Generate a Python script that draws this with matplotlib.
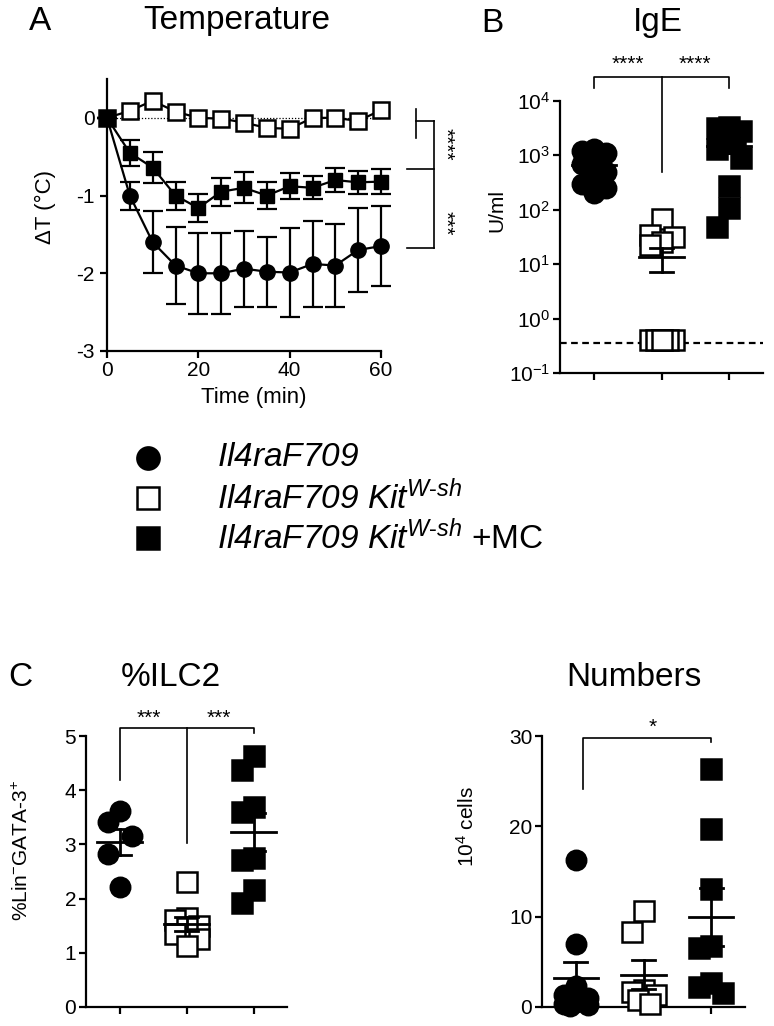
import matplotlib

matplotlib.use("Agg")
import matplotlib.pyplot as plt
from matplotlib.lines import Line2D

plt.rcParams["font.family"] = ["Liberation Sans", "DejaVu Sans"]
plt.rcParams["mathtext.fontset"] = "custom"
plt.rcParams["mathtext.rm"] = "Liberation Sans"
plt.rcParams["mathtext.it"] = "Liberation Sans:italic"
plt.rcParams["mathtext.sf"] = "Liberation Sans:italic"
plt.rcParams["axes.unicode_minus"] = False
plt.rcParams["axes.linewidth"] = 1.6

W, H = 774, 1026

# --- panel A: temperature drop over time (mean +/- SEM)
time_min = [0, 5, 10, 15, 20, 25, 30, 35, 40, 45, 50, 55, 60]
temp_f709 = [0, -1.0, -1.6, -1.9, -2.0, -2.0, -1.94, -1.98, -1.99, -1.88, -1.9, -1.7, -1.65]
temp_f709_sem = [0, 0.18, 0.4, 0.5, 0.52, 0.52, 0.49, 0.45, 0.57, 0.55, 0.54, 0.54, 0.51]
temp_kit = [0, 0.09, 0.22, 0.08, 0.0, -0.01, -0.06, -0.13, -0.14, 0.0, 0.0, -0.04, 0.1]
temp_mc = [0, -0.45, -0.64, -1.0, -1.16, -0.95, -0.9, -1.0, -0.88, -0.9, -0.8, -0.83, -0.82]
temp_mc_sem = [0, 0.17, 0.2, 0.18, 0.18, 0.18, 0.2, 0.17, 0.17, 0.15, 0.16, 0.15, 0.16]

# --- panel B: IgE (U/ml)
ige_f709 = [1300, 1200, 1100, 800, 700, 500, 450, 300, 250, 200]
ige_kit = [68, 34, 31, 25, 22, 0.4, 0.4, 0.4, 0.4, 0.4, 0.4]
ige_mc = [3300, 3100, 2800, 2200, 1700, 1300, 900, 270, 105, 48]
ige_mean = [665, 13.4, 1460]
ige_sem = [115, 6.3, 370]
ige_limit = 0.36

# --- panel C: %ILC2
ilc2_f709 = [3.61, 3.41, 3.16, 2.83, 2.22]
ilc2_kit = [2.3, 1.65, 1.6, 1.5, 1.45, 1.35, 1.25, 1.12]
ilc2_mc = [4.64, 4.38, 3.69, 3.6, 2.74, 2.72, 2.16, 1.91]
ilc2_mean = [3.05, 1.53, 3.23]
ilc2_sem = [0.24, 0.13, 0.35]

# --- panel C right: ILC2 numbers (10^4 cells)
num_f709 = [16.3, 7.0, 2.3, 1.3, 1.0, 0.6, 0.3, 0.2, 0.1]
num_kit = [10.6, 8.3, 1.9, 1.7, 1.3, 0.8, 0.3]
num_mc = [26.3, 19.65, 13.1, 6.8, 6.5, 2.65, 2.2, 1.55]
num_mean = [3.2, 3.57, 9.94]
num_sem = [1.8, 1.6, 3.2]

group_labels = [
    r"$\mathsf{Il4raF709}$",
    r"$\mathsf{Il4raF709\ Kit}^{\mathsf{W}\text{-}\mathsf{sh}}$",
    r"$\mathsf{Il4raF709\ Kit}^{\mathsf{W}\text{-}\mathsf{sh}}$ +MC",
]

STYLES = [
    dict(marker="o", mfc="black", mec="black"),
    dict(marker="s", mfc="white", mec="black"),
    dict(marker="s", mfc="black", mec="black"),
]


def fx(px):
    return px / W


def fy(py):
    return 1 - py / H


def make_axes(fig, left, right, top, bottom):
    ax = fig.add_axes([fx(left), fy(bottom), (right - left) / W, (bottom - top) / H])
    ax.spines[["top", "right"]].set_visible(False)
    ax.tick_params(direction="out", length=5, width=1.6, labelsize=15, pad=2)
    return ax


def swarm(ax, values, gap, half_width=12):
    # greedy scatter placement in pixel space, kept inside +/- half_width px
    y_px = [ax.transData.transform((1, v))[1] for v in values]
    unit = ax.transData.transform((1, 0))[0] - ax.transData.transform((0, 0))[0]
    cands = [0, -half_width, half_width, -half_width / 2, half_width / 2]
    placed = []
    offsets = []
    for yp in y_px:
        best, best_d = 0, -1
        for c in cands:
            d = min([((c - ox) ** 2 + (yp - oy) ** 2) ** 0.5 for ox, oy in placed] or [1e9])
            if d >= gap:
                best = c
                break
            if d > best_d:
                best, best_d = c, d
        placed.append((best, yp))
        offsets.append(best / unit)
    return offsets


def dot_panel(ax, groups, means, sems, ms, gap):
    ax.set_xlim(0.5, 3.5)
    ax.set_xticks([1, 2, 3])
    ax.set_xticklabels([])
    for i, (vals, style) in enumerate(zip(groups, STYLES)):
        c = i + 1
        offs = swarm(ax, vals, gap)
        ax.plot([c + o for o in offs], vals, ls="none", ms=ms, mew=1.8,
                clip_on=False, zorder=3, **style)
        m, s = means[i], sems[i]
        ax.plot([c - 0.33, c + 0.33], [m, m], color="black", lw=2, zorder=4)
        ax.plot([c, c], [m - s, m + s], color="black", lw=2, zorder=4)
        for yv in (m - s, m + s):
            ax.plot([c - 0.17, c + 0.17], [yv, yv], color="black", lw=2, zorder=4)


def bracket(ax, segments, lw=1.2):
    for xs, ys in segments:
        ax.plot(xs, ys, color="black", lw=lw, clip_on=False, zorder=2)


fig = plt.figure(figsize=(W / 100, H / 100), dpi=100)

# ---------------- A
ax_a = make_axes(fig, 107, 381, 79, 351)
ax_a.set_xlim(0, 60)
ax_a.set_ylim(-3, 0.5)
ax_a.set_xticks([0, 20, 40, 60])
ax_a.set_yticks([0, -1, -2, -3])
ax_a.tick_params(axis="y", pad=4)
ax_a.plot([0, 60], [0, 0], color="black", lw=0.9, ls=(0, (1, 1.5)), zorder=1)
ax_a.plot(time_min, temp_kit, color="black", lw=1.6, marker="s", ms=11,
          mfc="white", mec="black", mew=1.8, clip_on=False, zorder=3)
ax_a.errorbar(time_min, temp_f709, yerr=temp_f709_sem, fmt="none", ecolor="black",
              elinewidth=1.6, capsize=7, capthick=1.6, clip_on=False, zorder=2)
ax_a.plot(time_min, temp_f709, color="black", lw=1.6, marker="o", ms=11,
          clip_on=False, zorder=3)
ax_a.errorbar(time_min, temp_mc, yerr=temp_mc_sem, fmt="none", ecolor="black",
              elinewidth=1.6, capsize=7, capthick=1.6, clip_on=False, zorder=4)
ax_a.plot(time_min, temp_mc, color="black", lw=1.6, marker="s", ms=10,
          clip_on=False, zorder=5)
bracket(ax_a, [
    ([67.6, 67.6], [0.11, -0.26]),
    ([67.6, 71.6], [-0.04, -0.04]),
    ([65.6, 71.6], [-0.66, -0.66]),
    ([65.6, 71.6], [-1.68, -1.68]),
    ([71.6, 71.6], [-0.04, -1.68]),
])
ax_a.text(74.0, -0.34, "****", rotation=270, ha="center", va="center", fontsize=15)
ax_a.text(74.0, -1.36, "***", rotation=270, ha="center", va="center", fontsize=15)

# ---------------- B
ax_b = make_axes(fig, 560, 763, 100.7, 373)
ax_b.set_yscale("log")
ax_b.set_ylim(0.1, 1e4)
ax_b.set_yticks([0.1, 1, 10, 100, 1000, 10000])
ax_b.set_yticklabels([r"10$^{-1}$", r"10$^{0}$", r"10$^{1}$", r"10$^{2}$", r"10$^{3}$", r"10$^{4}$"])
ax_b.minorticks_off()
ax_b.plot([0.5, 3.5], [ige_limit, ige_limit], color="black", lw=1.6, ls=(0, (3, 2)), zorder=1)
dot_panel(ax_b, [ige_f709, ige_kit, ige_mc], ige_mean, ige_sem, ms=14, gap=20)
ax_b.minorticks_off()
bracket(ax_b, [
    ([1, 1, 3, 3], [17000, 27500, 27500, 17000]),
    ([2, 2], [27500, 490]),
])
ax_b.text(1.5, 47000, "****", ha="center", va="center", fontsize=15)
ax_b.text(2.5, 47000, "****", ha="center", va="center", fontsize=15)

# ---------------- C
ax_c = make_axes(fig, 86, 287, 736, 1007)
ax_c.set_ylim(0, 5)
ax_c.set_yticks([0, 1, 2, 3, 4, 5])
dot_panel(ax_c, [ilc2_f709, ilc2_kit, ilc2_mc], ilc2_mean, ilc2_sem, ms=14, gap=22)
bracket(ax_c, [
    ([1, 1, 3, 3], [4.18, 5.14, 5.14, 5.05]),
    ([2, 2], [5.14, 3.02]),
])
ax_c.text(1.44, 5.32, "***", ha="center", va="center", fontsize=15)
ax_c.text(2.48, 5.32, "***", ha="center", va="center", fontsize=15)

# ---------------- Numbers
ax_n = make_axes(fig, 542, 745, 736, 1007)
ax_n.set_ylim(0, 30)
ax_n.set_yticks([0, 10, 20, 30])
dot_panel(ax_n, [num_f709, num_kit, num_mc], num_mean, num_sem, ms=14, gap=22)
bracket(ax_n, [
    ([1.1, 1.1, 3.0, 3.0], [24.1, 29.8, 29.8, 29.3]),
])
ax_n.text(2.13, 31.0, "*", ha="center", va="center", fontsize=15)

# ---------------- titles and labels
for px, py, s in [(40, 21, "A"), (237, 21, "Temperature"), (492, 23, "B"), (658, 23, "IgE"),
                  (20, 677, "C"), (171, 677, "%ILC2"), (634, 677, "Numbers")]:
    fig.text(fx(px), fy(py), s, ha="center", va="center", fontsize=24)

fig.text(fx(254), fy(398), "Time (min)", ha="center", va="center", fontsize=16)
fig.text(fx(45), fy(207), "\u0394T (\u00b0C)", rotation=90, ha="center", va="center", fontsize=16)
fig.text(fx(497), fy(210), "U/ml", rotation=90, ha="center", va="center", fontsize=15)
fig.text(fx(22), fy(850), r"%Lin$^{-}$GATA-3$^{+}$", rotation=90, ha="center", va="center", fontsize=15)
fig.text(fx(467), fy(827), r"10$^{4}$ cells", rotation=90, ha="center", va="center", fontsize=15)

# ---------------- legend
for row, (label, style) in enumerate(zip(group_labels, STYLES)):
    py = 458 + row * 40
    fig.add_artist(Line2D([fx(148)], [fy(py)], transform=fig.transFigure, ls="none",
                          ms=16, mew=1.8, **style))
    fig.text(fx(217), fy(py), label, ha="left", va="center", fontsize=24)

fig.savefig("out.png", dpi=100)
